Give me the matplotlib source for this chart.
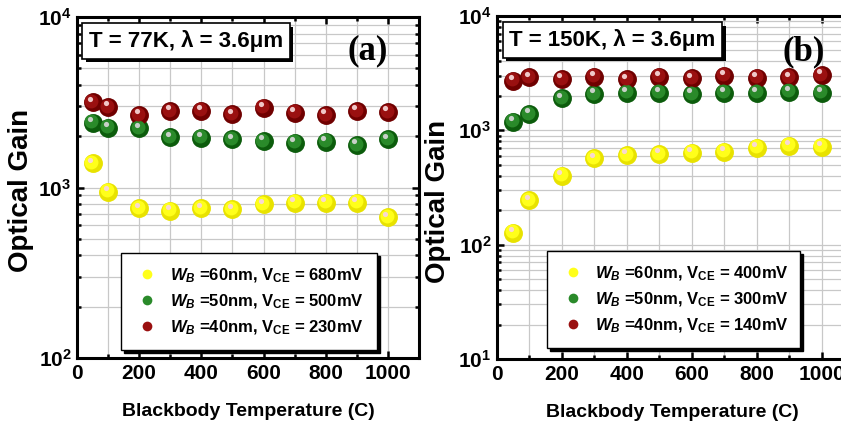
import numpy as np
import matplotlib
matplotlib.use("Agg")
import matplotlib.pyplot as plt
from matplotlib import transforms
from matplotlib import patheffects
from matplotlib.lines import Line2D
from matplotlib.ticker import LogLocator, MultipleLocator, NullFormatter

plt.rcParams['font.family'] = ['Liberation Sans', 'DejaVu Sans']
plt.rcParams['font.weight'] = 'bold'
plt.rcParams['mathtext.fontset'] = 'custom'
plt.rcParams['mathtext.rm'] = 'Liberation Sans:bold'
plt.rcParams['mathtext.it'] = 'Liberation Sans:italic:bold'
plt.rcParams['mathtext.bf'] = 'Liberation Sans:bold'

# blackbody temperatures (C)
temps = [50, 100, 200, 300, 400, 500, 600, 700, 800, 900, 1000]

# panel (a): T = 77K
gain_a_60 = [1386, 945, 755, 731, 755, 745, 796, 814, 814, 814, 668]
gain_a_50 = [2400, 2245, 2220, 1970, 1960, 1920, 1875, 1835, 1860, 1775, 1920]
gain_a_40 = [3160, 2965, 2660, 2810, 2820, 2690, 2940, 2750, 2660, 2810, 2770]

# panel (b): T = 150K
gain_b_60 = [127, 245, 401, 569, 608, 621, 637, 650, 705, 733, 720]
gain_b_50 = [1190, 1390, 1905, 2080, 2130, 2140, 2075, 2130, 2140, 2180, 2140]
gain_b_40 = [2720, 2910, 2810, 2945, 2800, 2945, 2850, 3010, 2880, 2910, 3050]

labels_a = [r"$W_B$ =60nm, V$_{\mathrm{CE}}$ = 680mV",
            r"$W_B$ =50nm, V$_{\mathrm{CE}}$ = 500mV",
            r"$W_B$ =40nm, V$_{\mathrm{CE}}$ = 230mV"]
labels_b = [r"$W_B$ =60nm, V$_{\mathrm{CE}}$ = 400mV",
            r"$W_B$ =50nm, V$_{\mathrm{CE}}$ = 300mV",
            r"$W_B$ =40nm, V$_{\mathrm{CE}}$ = 140mV"]

# sphere look: (base, mid, highlight)
yellow = ('#e8e200', '#ffff1a', '#f8d8d0')
green = ('#0c5c0c', '#2a8a2a', '#c8d0c8')
red = ('#700000', '#9a1010', '#f0c8c8')

fig = plt.figure(figsize=(8.41, 4.25), dpi=100)


def spheres(ax, x, y, col):
    t_mid = transforms.offset_copy(ax.transData, fig=fig, x=-0.8, y=1.0, units='points')
    t_hi = transforms.offset_copy(ax.transData, fig=fig, x=-1.8, y=2.6, units='points')
    ax.scatter(x, y, s=185, color=col[0], lw=0, zorder=3)
    ax.scatter(x, y, s=100, color=col[1], lw=0, zorder=4, transform=t_mid)
    ax.scatter(x, y, s=14, color=col[2], lw=0, zorder=5, transform=t_hi)


def setup(ax, ylo, title, tag, labels, lbox, tagpos, xlab_x):
    ax.set_yscale('log')
    ax.set_ylim(ylo, 1e4)
    ax.set_xlim(0, 1100)
    ax.xaxis.set_major_locator(MultipleLocator(200))
    ax.xaxis.set_minor_locator(MultipleLocator(100))
    ax.yaxis.set_major_locator(LogLocator(base=10))
    ax.yaxis.set_minor_locator(LogLocator(base=10, subs=np.arange(2, 10)))
    ax.yaxis.set_minor_formatter(NullFormatter())
    ax.grid(True, which='both', color='#c8c8c8', lw=0.9, zorder=0)
    ax.set_axisbelow(True)
    for s in ax.spines.values():
        s.set_linewidth(2.2)
    ax.tick_params(which='both', direction='in', top=True, right=True, width=1.8)
    ax.tick_params(which='major', length=5, labelsize=15, pad=4)
    ax.tick_params(which='minor', length=3)
    for lab in ax.get_xticklabels() + ax.get_yticklabels():
        lab.set_fontweight('bold')
    ax.set_xlabel('Blackbody Temperature (C)', fontsize=14, fontweight='bold')
    ax.set_ylabel('Optical Gain', fontsize=20, fontweight='bold')
    ax.xaxis.set_label_coords(xlab_x, -0.132)
    t = ax.text(0.035, 0.93, title, transform=ax.transAxes, fontsize=16,
                fontweight='bold', va='center', ha='left', zorder=10,
                bbox=dict(boxstyle='square,pad=0.3', fc='white', ec='black', lw=1.2))
    t.get_bbox_patch().set_path_effects([
        patheffects.SimplePatchShadow(offset=(2.5, -2.5), shadow_rgbFace='black', alpha=1),
        patheffects.Normal()])
    ax.text(tagpos[0], tagpos[1], tag, transform=ax.transAxes, fontsize=25,
            family='Liberation Serif', fontweight='bold', ha='center', va='center', zorder=10)
    handles = [Line2D([], [], ls='none', marker='o', ms=7, mec='none', mfc=c[1])
               for c in (yellow, green, red)]
    leg = ax.legend(handles, labels, loc='lower left', bbox_to_anchor=lbox,
                    mode='expand', fontsize=12, frameon=True, fancybox=False,
                    framealpha=1, edgecolor='black', handletextpad=0.6,
                    labelspacing=0.45, borderpad=0.8, handlelength=1.5,
                    borderaxespad=0, shadow={'color': 'black', 'alpha': 1})
    leg.get_frame().set_linewidth(1.0)
    leg.set_zorder(10)


ax1 = fig.add_axes([77 / 841, 67 / 425, 342 / 841, 341 / 425])
spheres(ax1, temps, gain_a_60, yellow)
spheres(ax1, temps, gain_a_50, green)
spheres(ax1, temps, gain_a_40, red)
setup(ax1, 1e2, "T = 77K, λ = 3.6μm", '(a)', labels_a,
      (0.13, 0.023, 0.747, 0.29), (0.85, 0.9), 0.5)
ax1.yaxis.set_label_coords(-0.126, 0.49)

ax2 = fig.add_axes([497 / 841, 66 / 425, 357 / 841, 343 / 425])
spheres(ax2, temps, gain_b_60, yellow)
spheres(ax2, temps, gain_b_50, green)
spheres(ax2, temps, gain_b_40, red)
setup(ax2, 1e1, "T = 150K, λ = 3.6μm", '(b)', labels_b,
      (0.14, 0.032, 0.71, 0.3), (0.86, 0.895), 0.49)
ax2.yaxis.set_label_coords(-0.13, 0.46)

fig.savefig('out.png', dpi=100)
